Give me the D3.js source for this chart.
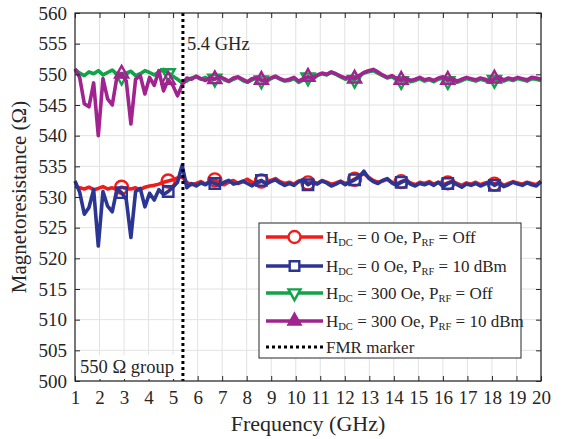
<!DOCTYPE html>
<html>
<head>
<meta charset="utf-8">
<script src="https://cdn.jsdelivr.net/npm/d3@7"></script>
<style>
  html, body { margin: 0; padding: 0; background: #fff; }
  svg { display: block; }
</style>
</head>
<body>
<svg id="chart" width="563" height="439"></svg>
<script>
// ---------------- DATA ----------------
const freqStart = 1, freqStep = 0.19;           // 101 samples, 1 .. 20 GHz
const xTicks = d3.range(1, 21);
const yTicks = [500, 505, 510, 515, 520, 525, 530, 535, 540, 545, 550, 555, 560];
const fmrFreq = 5.4;
const markerEvery = 10;

const red = [
  531.8, 531.5, 531.3, 531.6, 531.2, 531.4, 531.7, 531.3, 531.5, 531.2,
  531.6, 531.4, 531.3, 531.5, 531.2, 531.6, 531.8, 531.9, 532.1, 532.4,
  532.6, 532.8, 533.1, 533.3, 532.4, 532.0,
  532.2, 532.5, 532.1, 532.6, 532.8, 532.3, 532.0, 532.4, 532.7, 532.2,
  532.5, 532.9, 532.4, 532.1, 532.6, 532.3, 532.7, 533.0, 532.5, 532.2,
  532.4, 532.1, 532.6, 532.8, 532.3, 532.5, 532.2, 532.7, 532.4, 532.1,
  532.3, 532.6, 532.2, 532.5, 532.9, 533.4, 533.8, 533.2, 532.7, 532.4,
  532.6, 532.9, 532.4, 532.1, 532.5, 532.8, 532.3, 532.0, 532.4, 532.2,
  532.5, 532.1, 532.4, 532.0, 532.3, 532.6, 532.2, 531.9, 532.3, 532.1,
  532.4, 532.0, 532.3, 532.5, 532.1, 532.4, 531.9, 532.2, 532.5, 532.3,
  532.1, 532.4, 532.2, 532.0, 532.6
];
const blue = [
  532.6, 530.8, 527.2, 528.3, 531.2, 522.0, 530.9, 528.5, 527.6, 531.3,
  530.7, 529.6, 523.4, 530.9, 531.4, 528.4, 530.6, 529.5, 531.2, 530.4,
  530.9, 531.6, 532.4, 535.2, 531.5, 532.2,
  531.8, 532.3, 532.0, 532.5, 532.2, 531.9, 532.4, 532.7, 532.1, 532.3,
  532.6, 532.2, 531.8, 532.4, 532.7, 532.1, 532.5, 532.8, 532.3, 531.9,
  532.2, 531.9, 532.5, 532.7, 532.0, 532.4, 532.1, 532.6, 532.3, 531.8,
  532.1, 532.5, 532.0, 532.4, 532.8, 533.3, 534.2, 533.1, 532.5, 532.2,
  532.7, 533.0, 532.3, 531.9, 532.4, 532.7, 532.1, 531.8, 532.2, 532.0,
  532.3, 531.9, 532.4, 531.7, 532.2, 532.5, 532.0, 531.6, 532.1, 531.9,
  532.2, 531.8, 532.1, 532.4, 531.9, 532.3, 531.7, 532.0, 532.4, 532.1,
  531.9, 532.3, 532.0, 531.8, 532.5
];
const green = [
  550.8, 550.2, 549.8, 550.4, 550.1, 550.6, 549.9, 550.3, 550.7, 550.0,
  549.6, 550.2, 550.5, 549.8, 550.1, 550.6, 550.3, 549.9, 550.4, 550.8,
  550.2, 549.7, 549.2, 548.6, 548.9, 549.4,
  549.6, 549.2, 549.5, 549.0, 549.3, 549.7, 549.1, 548.8, 549.2, 549.5,
  549.0, 548.7, 549.1, 549.4, 549.0, 548.8, 549.3, 549.6, 549.2, 548.9,
  549.0, 549.3, 548.7, 549.1, 549.5, 549.2, 549.8, 550.1, 549.9, 550.3,
  550.0, 549.6, 549.2, 549.4, 549.1, 549.7, 550.2, 550.4, 550.6, 550.2,
  549.8, 549.4, 549.6, 549.1, 548.9, 549.2, 548.8, 549.0, 549.3, 548.9,
  549.1, 548.8, 549.2, 549.4, 548.9, 549.1, 548.7, 549.0, 549.3, 549.1,
  548.9, 549.2, 549.0, 548.7, 549.1, 549.3, 548.9, 549.2, 549.0, 549.3,
  549.1, 548.9, 549.3, 549.2, 549.0
];
const magenta = [
  550.9, 549.5, 545.2, 544.7, 548.6, 540.0, 549.3, 546.0, 545.0, 549.6,
  550.1, 548.9, 541.9, 549.2, 549.8, 546.8, 549.5, 548.2, 550.6, 547.3,
  549.1, 548.2, 546.5, 548.3, 549.4, 549.2,
  549.7, 549.3, 549.0, 549.5, 549.2, 549.6, 549.3, 548.9, 549.4, 549.6,
  549.2, 548.8, 549.3, 549.5, 549.1, 549.0, 549.4, 549.7, 549.3, 549.0,
  549.2, 549.5, 548.9, 549.3, 549.6, 549.4, 549.9, 550.2, 550.0, 550.4,
  550.1, 549.7, 549.4, 549.6, 549.3, 549.8, 550.3, 550.6, 550.8, 550.4,
  549.9, 549.5, 549.8, 549.3, 549.1, 549.4, 549.0, 549.2, 549.5, 549.1,
  549.3, 549.0, 549.4, 549.6, 549.1, 549.3, 548.9, 549.2, 549.5, 549.3,
  549.1, 549.4, 549.2, 548.9, 549.3, 549.5, 549.1, 549.4, 549.2, 549.5,
  549.3, 549.1, 549.5, 549.4, 549.2
];

const seriesHdc = ["0 Oe", "0 Oe", "300 Oe", "300 Oe"];
const seriesPrf = ["Off", "10 dBm", "Off", "10 dBm"];
const seriesValues = [red, blue, green, magenta];
const seriesColors = ["#f01c1c", "#2b3593", "#12a24a", "#a0238f"];
const seriesMarkers = ["circle", "square", "triDown", "triUp"];

// ---------------- LAYOUT ----------------
const FONT = "'Liberation Serif', 'Times New Roman', serif";
const TXT = "#262626";
const svg = d3.select("#chart");
const M = { left: 75, right: 541, top: 13, bottom: 381 };
const x = d3.scaleLinear().domain([1, 20]).range([M.left, M.right]);
const y = d3.scaleLinear().domain([500, 560]).range([M.bottom, M.top]);

// grid
const grid = svg.append("g");
grid.selectAll("line.gx").data(xTicks).join("line")
  .attr("x1", d => x(d)).attr("x2", d => x(d)).attr("y1", M.top).attr("y2", M.bottom)
  .attr("stroke", "#e2e2e2").attr("stroke-width", 1);
grid.selectAll("line.gy").data(yTicks).join("line")
  .attr("y1", d => y(d)).attr("y2", d => y(d)).attr("x1", M.left).attr("x2", M.right)
  .attr("stroke", "#e2e2e2").attr("stroke-width", 1);

// data lines
const line = d3.line().x((d, i) => x(freqStart + i * freqStep)).y(d => y(d));
const plot = svg.append("g");

function markerPath(type, cx, cy, s) {
  const p = d3.path();
  if (type === "circle") { p.moveTo(cx + s, cy); p.arc(cx, cy, s, 0, 2 * Math.PI); }
  else if (type === "square") { p.rect(cx - s * 0.8, cy - s * 0.8, s * 1.6, s * 1.6); }
  else if (type === "triUp") { p.moveTo(cx, cy - s * 1.2); p.lineTo(cx + s, cy + s * 0.6); p.lineTo(cx - s, cy + s * 0.6); p.closePath(); }
  else { p.moveTo(cx, cy + s * 1.2); p.lineTo(cx + s, cy - s * 0.6); p.lineTo(cx - s, cy - s * 0.6); p.closePath(); }
  return p.toString();
}

seriesValues.forEach((vals, k) => {
  plot.append("path").datum(vals)
    .attr("d", line).attr("fill", "none")
    .attr("stroke", seriesColors[k]).attr("stroke-width", 3.6)
    .attr("stroke-linejoin", "round");
  const mk = vals.map((v, i) => ({ v, i }))
    .filter(d => d.i % markerEvery === 0 && d.i > 0 && d.i < vals.length - 1);
  plot.selectAll(null).data(mk).join("path")
    .attr("d", d => markerPath(seriesMarkers[k], x(freqStart + d.i * freqStep), y(d.v), 6.5))
    .attr("fill", "none")
    .attr("stroke", seriesColors[k]).attr("stroke-width", 2.4);
});

// FMR marker
svg.append("line")
  .attr("x1", x(fmrFreq)).attr("x2", x(fmrFreq)).attr("y1", M.top).attr("y2", M.bottom)
  .attr("stroke", "#000").attr("stroke-width", 3).attr("stroke-dasharray", "3,3");

// frame and ticks
svg.append("rect").attr("x", M.left).attr("y", M.top)
  .attr("width", M.right - M.left).attr("height", M.bottom - M.top)
  .attr("fill", "none").attr("stroke", "#262626").attr("stroke-width", 1.2);

const tickLen = 5;
const axB = svg.append("g").attr("transform", `translate(0,${M.bottom})`)
  .call(d3.axisBottom(x).tickValues(xTicks).tickSize(-tickLen).tickPadding(10).tickFormat(d3.format("d")));
const axT = svg.append("g").attr("transform", `translate(0,${M.top})`)
  .call(d3.axisTop(x).tickValues(xTicks).tickSize(-tickLen).tickFormat(""));
const axL = svg.append("g").attr("transform", `translate(${M.left},0)`)
  .call(d3.axisLeft(y).tickValues(yTicks).tickSize(-tickLen).tickPadding(8).tickFormat(d3.format("d")));
const axR = svg.append("g").attr("transform", `translate(${M.right},0)`)
  .call(d3.axisRight(y).tickValues(yTicks).tickSize(-tickLen).tickFormat(""));
[axB, axT, axL, axR].forEach(a => {
  a.select(".domain").remove();
  a.selectAll(".tick line").attr("stroke", "#262626");
  a.selectAll("text").attr("font-size", 19);
});

// axis titles
svg.append("text").attr("x", (M.left + M.right) / 2).attr("y", 431)
  .attr("text-anchor", "middle").attr("font-size", 22).text("Frequency (GHz)");
svg.append("text").attr("transform", `translate(26,${(M.top + M.bottom) / 2}) rotate(-90)`)
  .attr("text-anchor", "middle").attr("font-size", 21).text("Magnetoresistance (Ω)");

// annotations
svg.append("text").attr("x", x(fmrFreq) + 4).attr("y", 50).attr("font-size", 18.5).text("5.4 GHz");
svg.append("rect").attr("x", 78).attr("y", 355).attr("width", 103).attr("height", 24).attr("fill", "#fff");
svg.append("text").attr("x", 80).attr("y", 373).attr("font-size", 18.5).text("550 Ω group");

// legend
const lg = svg.append("g");
lg.append("rect").attr("x", 259).attr("y", 223).attr("width", 262).attr("height", 135)
  .attr("fill", "#fff").attr("stroke", "#262626").attr("stroke-width", 1);
const rowY = [237, 266, 293, 321];
seriesHdc.forEach((h, k) => {
  const yy = rowY[k];
  lg.append("line").attr("x1", 266).attr("x2", 323).attr("y1", yy).attr("y2", yy)
    .attr("stroke", seriesColors[k]).attr("stroke-width", 3.6);
  lg.append("path").attr("d", markerPath(seriesMarkers[k], 294.5, yy, 6))
    .attr("fill", k === 3 ? seriesColors[k] : "#fff")
    .attr("stroke", seriesColors[k]).attr("stroke-width", 2.4);
  const t = lg.append("text").attr("x", 326).attr("y", yy + 6).attr("font-size", 17);
  t.append("tspan").text("H");
  t.append("tspan").attr("font-size", 10.5).attr("dy", 3).text("DC");
  t.append("tspan").attr("dy", -3).text(" = " + h + ", P");
  t.append("tspan").attr("font-size", 10.5).attr("dy", 3).text("RF");
  t.append("tspan").attr("dy", -3).text(" = " + seriesPrf[k]);
});
lg.append("line").attr("x1", 266).attr("x2", 323).attr("y1", 347).attr("y2", 347)
  .attr("stroke", "#000").attr("stroke-width", 3).attr("stroke-dasharray", "3,3");
lg.append("text").attr("x", 326).attr("y", 353).attr("font-size", 17).text("FMR marker");

// typography for every text element
svg.selectAll("g").attr("font-family", null);
svg.selectAll("text").style("font-family", FONT).attr("fill", TXT);
</script>
</body>
</html>
